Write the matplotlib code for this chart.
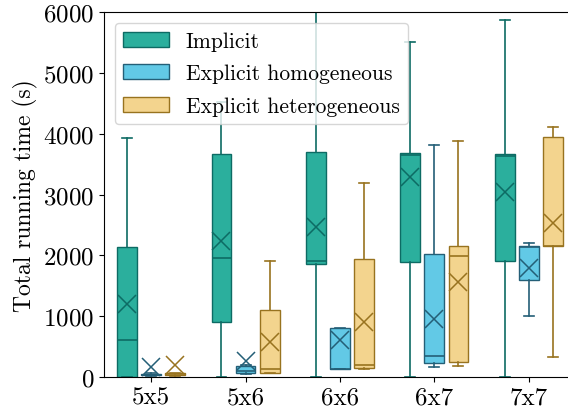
import numpy as np
import matplotlib
matplotlib.use('Agg')
import matplotlib.pyplot as plt
from matplotlib.patches import Patch

plt.rcParams['font.family'] = 'cmr10'
plt.rcParams['mathtext.fontset'] = 'cm'
plt.rcParams['axes.formatter.use_mathtext'] = True

# grid sizes
sizes = ['5x5', '5x6', '6x6', '6x7', '7x7']
series = ['Implicit', 'Explicit homogeneous', 'Explicit heterogeneous']

# box statistics (seconds)
impl_lo = [0, 0, 0, 0, 0]
impl_q1 = [0, 909, 1858, 1885, 1912]
impl_med = [613, 1956, 1907, 3650, 3630]
impl_q3 = [2132, 3671, 3693, 3677, 3660]
impl_hi = [3924, 4520, 6300, 5512, 5864]
impl_mean = [1195, 2231, 2461, 3283, 3036]

hom_lo = [20, 55, 125, 170, 1008]
hom_q1 = [25, 60, 131, 225, 1595]
hom_med = [35, 100, 140, 350, 2130]
hom_q3 = [55, 186, 800, 2022, 2148]
hom_hi = [60, 190, 800, 3819, 2203]
hom_mean = [160, 268, 613, 953, 1797]

het_lo = [20, 60, 131, 186, 334]
het_q1 = [25, 60, 143, 247, 2159]
het_med = [40, 132, 203, 1994, 2159]
het_q3 = [60, 1107, 1935, 2148, 3940]
het_hi = [65, 1902, 3184, 3880, 4105]
het_mean = [197, 570, 899, 1557, 2532]

data = [
    (impl_lo, impl_q1, impl_med, impl_q3, impl_hi, impl_mean),
    (hom_lo, hom_q1, hom_med, hom_q3, hom_hi, hom_mean),
    (het_lo, het_q1, het_med, het_q3, het_hi, het_mean),
]
fills = ['#2baf9d', '#62c9e6', '#f3d48e']
edges = ['#0d6b64', '#245f77', '#98731f']

fig = plt.figure(figsize=(5.68, 4.10), dpi=100)
ax = fig.add_axes([0.183, 0.078, 0.831, 0.890])

x = np.arange(len(sizes))
offs = [-0.255, 0.0, 0.255]
for k, (lo, q1, med, q3, hi, mean) in enumerate(data):
    stats = []
    for i in range(len(sizes)):
        stats.append(dict(whislo=lo[i], q1=q1[i], med=med[i], q3=q3[i],
                          whishi=hi[i], mean=mean[i], fliers=[]))
    ec = edges[k]
    ax.bxp(stats, positions=x + offs[k], widths=0.21, patch_artist=True,
           showmeans=True, showfliers=False,
           boxprops=dict(facecolor=fills[k], edgecolor=ec, linewidth=1.0),
           medianprops=dict(color=ec, linewidth=1.2),
           whiskerprops=dict(color=ec, linewidth=1.2),
           capprops=dict(color=ec, linewidth=1.2),
           meanprops=dict(marker='x', markersize=13, markeredgecolor=ec,
                          markeredgewidth=1.1))

ax.set_xlim(-0.5, 4.5)
ax.set_ylim(0, 6000)
ax.set_xticks(x)
ax.set_xticklabels(sizes)
ax.set_yticks(np.arange(0, 6001, 1000))
ax.tick_params(labelsize=18)
ax.set_ylabel('Total running time (s)', fontsize=17)

handles = [Patch(facecolor=fills[k], edgecolor=edges[k], label=series[k])
           for k in range(3)]
ax.legend(handles=handles, loc='upper left', fontsize=15.5,
          handlelength=2.1, labelspacing=0.6, framealpha=0.8)

plt.savefig('out.png', dpi=100)
